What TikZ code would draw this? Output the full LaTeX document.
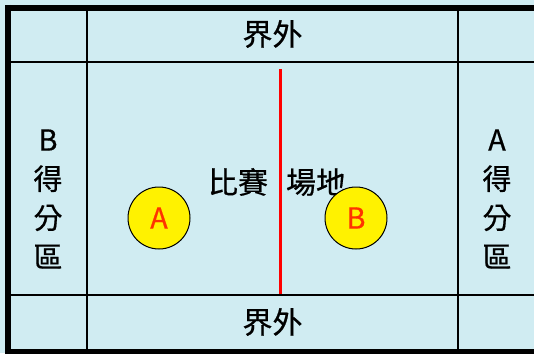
\documentclass[tikz,border=0pt]{standalone}
\usepackage{fontspec}
\setmainfont[FakeBold=0.6]{Noto Sans CJK TC}
\definecolor{court}{HTML}{D0ECF2}
\definecolor{letter}{HTML}{FF3300}
\begin{document}
\begin{tikzpicture}[x=1pt,y=-1pt,
  thickline/.style={line width=6pt,black},
  thinline/.style={line width=2.6pt,black},
  lbl/.style={inner sep=0pt,font=\fontsize{30}{36}\selectfont},
  sidelbl/.style={inner sep=0pt,align=center,font=\fontsize{29}{39}\selectfont},
  player/.style={circle,draw=black,line width=1pt,fill=yellow,minimum size=62pt,inner sep=0pt,text=letter,font=\fontsize{29}{30}\selectfont}]
\fill[court] (0,0) rectangle (534,353);
\useasboundingbox (0,0) rectangle (534,353);
% grid lines
\draw[thinline] (11,62) -- (534,62);
\draw[thinline] (11,295) -- (534,295);
\draw[thinline] (87,10) -- (87,350);
\draw[thinline] (458,10) -- (458,350);
% border
\draw[thickline] (5,8) -- (534,8);
\draw[thickline] (8,5) -- (8,353);
\draw[thickline] (5,352) -- (534,352);
% center line
\draw[red,line width=3pt] (280,69) -- (280,294);
% labels
\node[lbl] (top) at (272.5,34) {界外};
\node[lbl] (bottom) at (272.5,322) {界外};
\node[lbl] (field) at (277,182) {比賽\hspace{0.6em}場地};
\node[sidelbl] (bzone) at (48,199) {B\\得\\分\\區};
\node[sidelbl] (azone) at (497,199) {A\\得\\分\\區};
\node[player] (pa) at (159,218) {A};
\node[player] (pb) at (356,218) {B};
\end{tikzpicture}
\end{document}
